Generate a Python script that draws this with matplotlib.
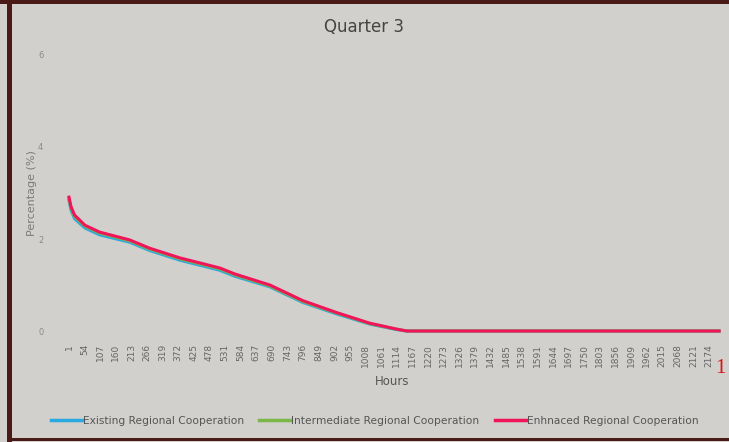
import matplotlib.pyplot as plt
from matplotlib.patches import Rectangle
from matplotlib.lines import Line2D

# Duration curve breakpoints (hour, percentage)
hours = [1, 8, 20, 55, 105, 207, 275, 377, 513, 564, 683, 795, 910, 1022, 1114, 1148, 2208]
existing = [2.84, 2.62, 2.44, 2.24, 2.09, 1.93, 1.75, 1.54, 1.32, 1.19, 0.96, 0.62, 0.37, 0.15, 0.03, 0.0, 0.0]
intermediate = [2.88, 2.67, 2.49, 2.28, 2.13, 1.96, 1.78, 1.57, 1.35, 1.22, 0.98, 0.64, 0.39, 0.16, 0.04, 0.0, 0.0]
enhanced = [2.91, 2.70, 2.52, 2.30, 2.15, 1.98, 1.80, 1.59, 1.37, 1.24, 1.00, 0.66, 0.40, 0.17, 0.04, 0.0, 0.0]

tick_hours = [1, 54, 107, 160, 213, 266, 319, 372, 425, 478, 531, 584, 637, 690,
              743, 796, 849, 902, 955, 1008, 1061, 1114, 1167, 1220, 1273, 1326,
              1379, 1432, 1485, 1538, 1591, 1644, 1697, 1750, 1803, 1856, 1909,
              1962, 2015, 2068, 2121, 2174]
y_ticks = [0, 2, 4, 6]

bg = "#d1d0cc"
text_col = "#555555"

fig = plt.figure(figsize=(7.29, 4.42), dpi=100, facecolor=bg)
ax = fig.add_axes([0.0823, 0.2407, 0.9122, 0.6453])
ax.set_facecolor(bg)

ax.plot(hours, existing, color="#2aa9e0", lw=2.2, label="Existing Regional Cooperation")
ax.plot(hours, intermediate, color="#7ab648", lw=2.2, label="Intermediate Regional Cooperation")
ax.plot(hours, enhanced, color="#f0145a", lw=2.2, label="Enhnaced Regional Cooperation")

ax.set_xlim(-29.5, 2228)
ax.set_ylim(-0.1, 6.1)
ax.set_xticks(tick_hours)
ax.set_xticklabels([str(h) for h in tick_hours], rotation=90, fontsize=6.5, color="#666666")
ax.set_yticks(y_ticks)
ax.set_yticklabels([str(v) for v in y_ticks], fontsize=6, color="#8a8a8a")
ax.tick_params(axis="both", length=0)
ax.tick_params(axis="x", pad=6)
ax.tick_params(axis="y", pad=12)
for s in ax.spines.values():
    s.set_visible(False)

ax.set_xlabel("Hours", fontsize=8.5, color=text_col, labelpad=6)
ax.set_ylabel("Percentage (%)", fontsize=8, color="#7a7a7a", labelpad=1)
fig.text(0.5, 0.938, "Quarter 3", ha="center", va="center", fontsize=12, color="#444444")

handles = [Line2D([], [], color=c, lw=2.5) for c in ["#2aa9e0", "#7ab648", "#f0145a"]]
labels = ["Existing Regional Cooperation", "Intermediate Regional Cooperation",
          "Enhnaced Regional Cooperation"]
fig.legend(handles, labels, loc="center", bbox_to_anchor=(0.514, 0.047), ncol=3,
           frameon=False, fontsize=7.7, labelcolor="#555555", handlelength=2.9,
           handletextpad=0.1, columnspacing=1.4)

# page number that sits at the right edge of the scan
fig.text(0.995, 0.167, "1", ha="right", va="center", fontsize=15, color="#e01010",
         family="Liberation Serif")

# dark frame around the scanned chart
fig.patches.append(Rectangle((0, 1 - 4 / 442), 1, 4 / 442, transform=fig.transFigure,
                             facecolor="#4a1a16", edgecolor="none"))
fig.patches.append(Rectangle((7 / 729, 0), 5 / 729, 1, transform=fig.transFigure,
                             facecolor="#4a1a16", edgecolor="none"))
fig.patches.append(Rectangle((7 / 729, 1 / 442), 1 - 7 / 729, 3 / 442, transform=fig.transFigure,
                             facecolor="#4a1a16", edgecolor="none"))

fig.savefig("out.png", dpi=100, facecolor=bg)
